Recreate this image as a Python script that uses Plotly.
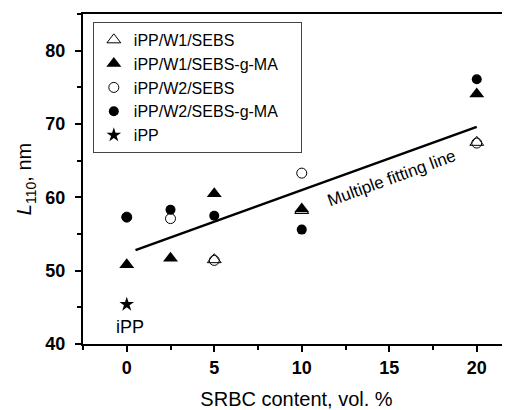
import plotly.graph_objects as go

# SRBC content (vol. %) and L110 (nm)
w1_sebs_x = [5, 10, 20]
w1_sebs_y = [51.5, 58.2, 67.5]

w1_gma_x = [0, 2.5, 5, 10, 20]
w1_gma_y = [50.8, 51.7, 60.5, 58.4, 74.1]

w2_sebs_x = [0, 2.5, 5, 10, 20]
w2_sebs_y = [57.3, 57.1, 51.4, 63.3, 67.4]

w2_gma_x = [0, 2.5, 5, 10, 20]
w2_gma_y = [57.3, 58.3, 57.5, 55.6, 76.1]

ipp_x = [0]
ipp_y = [45.4]

fit_x = [0.5, 20]
fit_y = [52.8, 69.6]

FONT = "Liberation Sans, Arial, sans-serif"
PAD = "\u00a0" * 4  # widens the legend box a little

fig = go.Figure()
fig.add_trace(go.Scatter(x=fit_x, y=fit_y, mode='lines', showlegend=False,
                         line=dict(color='black', width=2.5)))
fig.add_trace(go.Scatter(x=w1_sebs_x, y=w1_sebs_y, mode='markers', name='iPP/W1/SEBS',
                         marker=dict(symbol='triangle-up-open', size=12, color='black',
                                     line=dict(width=1))))
fig.add_trace(go.Scatter(x=w1_gma_x, y=w1_gma_y, mode='markers', name='iPP/W1/SEBS-g-MA' + PAD,
                         marker=dict(symbol='triangle-up', size=13, color='black')))
fig.add_trace(go.Scatter(x=w2_sebs_x, y=w2_sebs_y, mode='markers', name='iPP/W2/SEBS',
                         marker=dict(symbol='circle-open', size=10, color='black',
                                     line=dict(width=1))))
fig.add_trace(go.Scatter(x=w2_gma_x, y=w2_gma_y, mode='markers', name='iPP/W2/SEBS-g-MA' + PAD,
                         marker=dict(symbol='circle', size=10, color='black')))
fig.add_trace(go.Scatter(x=ipp_x, y=ipp_y, mode='markers', name='iPP',
                         marker=dict(symbol='star', size=11, color='black')))

fig.add_annotation(x=0.2, y=42.3, text="iPP", showarrow=False,
                   font=dict(family=FONT, size=18, color='black'))
fig.add_annotation(x=15.1, y=62.6, text="Multiple fitting line", showarrow=False,
                   textangle=-20, font=dict(family=FONT, size=17, color='black'))

# page body adds an 8 px margin, so the figure is a little smaller than the window
fig.update_layout(
    width=502, height=402,
    margin=dict(l=75, r=0, t=6, b=66),
    plot_bgcolor='white', paper_bgcolor='white',
    font=dict(family=FONT, color='black'),
    legend=dict(x=0.023, y=0.976, xanchor='left', yanchor='top',
                bordercolor='#444', borderwidth=1, bgcolor='white',
                font=dict(family=FONT, size=16), tracegroupgap=0),
    xaxis=dict(range=[-2.5, 21.9], tickvals=[0, 5, 10, 15, 20],
               showline=True, linecolor='black', linewidth=2, mirror=True,
               ticks='outside', ticklen=6, tickwidth=2, tickcolor='black',
               minor=dict(ticks='outside', dtick=2.5, tick0=0, ticklen=4,
                          tickwidth=1.5, tickcolor='black'),
               showgrid=False, zeroline=False, automargin=False,
               tickfont=dict(size=18, weight='bold'),
               title=dict(text="SRBC content, vol. %", font=dict(size=20), standoff=21)),
    yaxis=dict(range=[40, 85], tickvals=[40, 50, 60, 70, 80],
               showline=True, linecolor='black', linewidth=2,
               ticks='outside', ticklen=6, tickwidth=2, tickcolor='black',
               minor=dict(ticks='outside', dtick=5, tick0=0, ticklen=4,
                          tickwidth=1.5, tickcolor='black'),
               showgrid=False, zeroline=False, automargin=False,
               ticklabelstandoff=6,
               tickfont=dict(size=18, weight='bold'),
               title=dict(text="<i>L</i><sub>110</sub>, nm", font=dict(size=20), standoff=8)),
)

fig.write_html("out.html")
